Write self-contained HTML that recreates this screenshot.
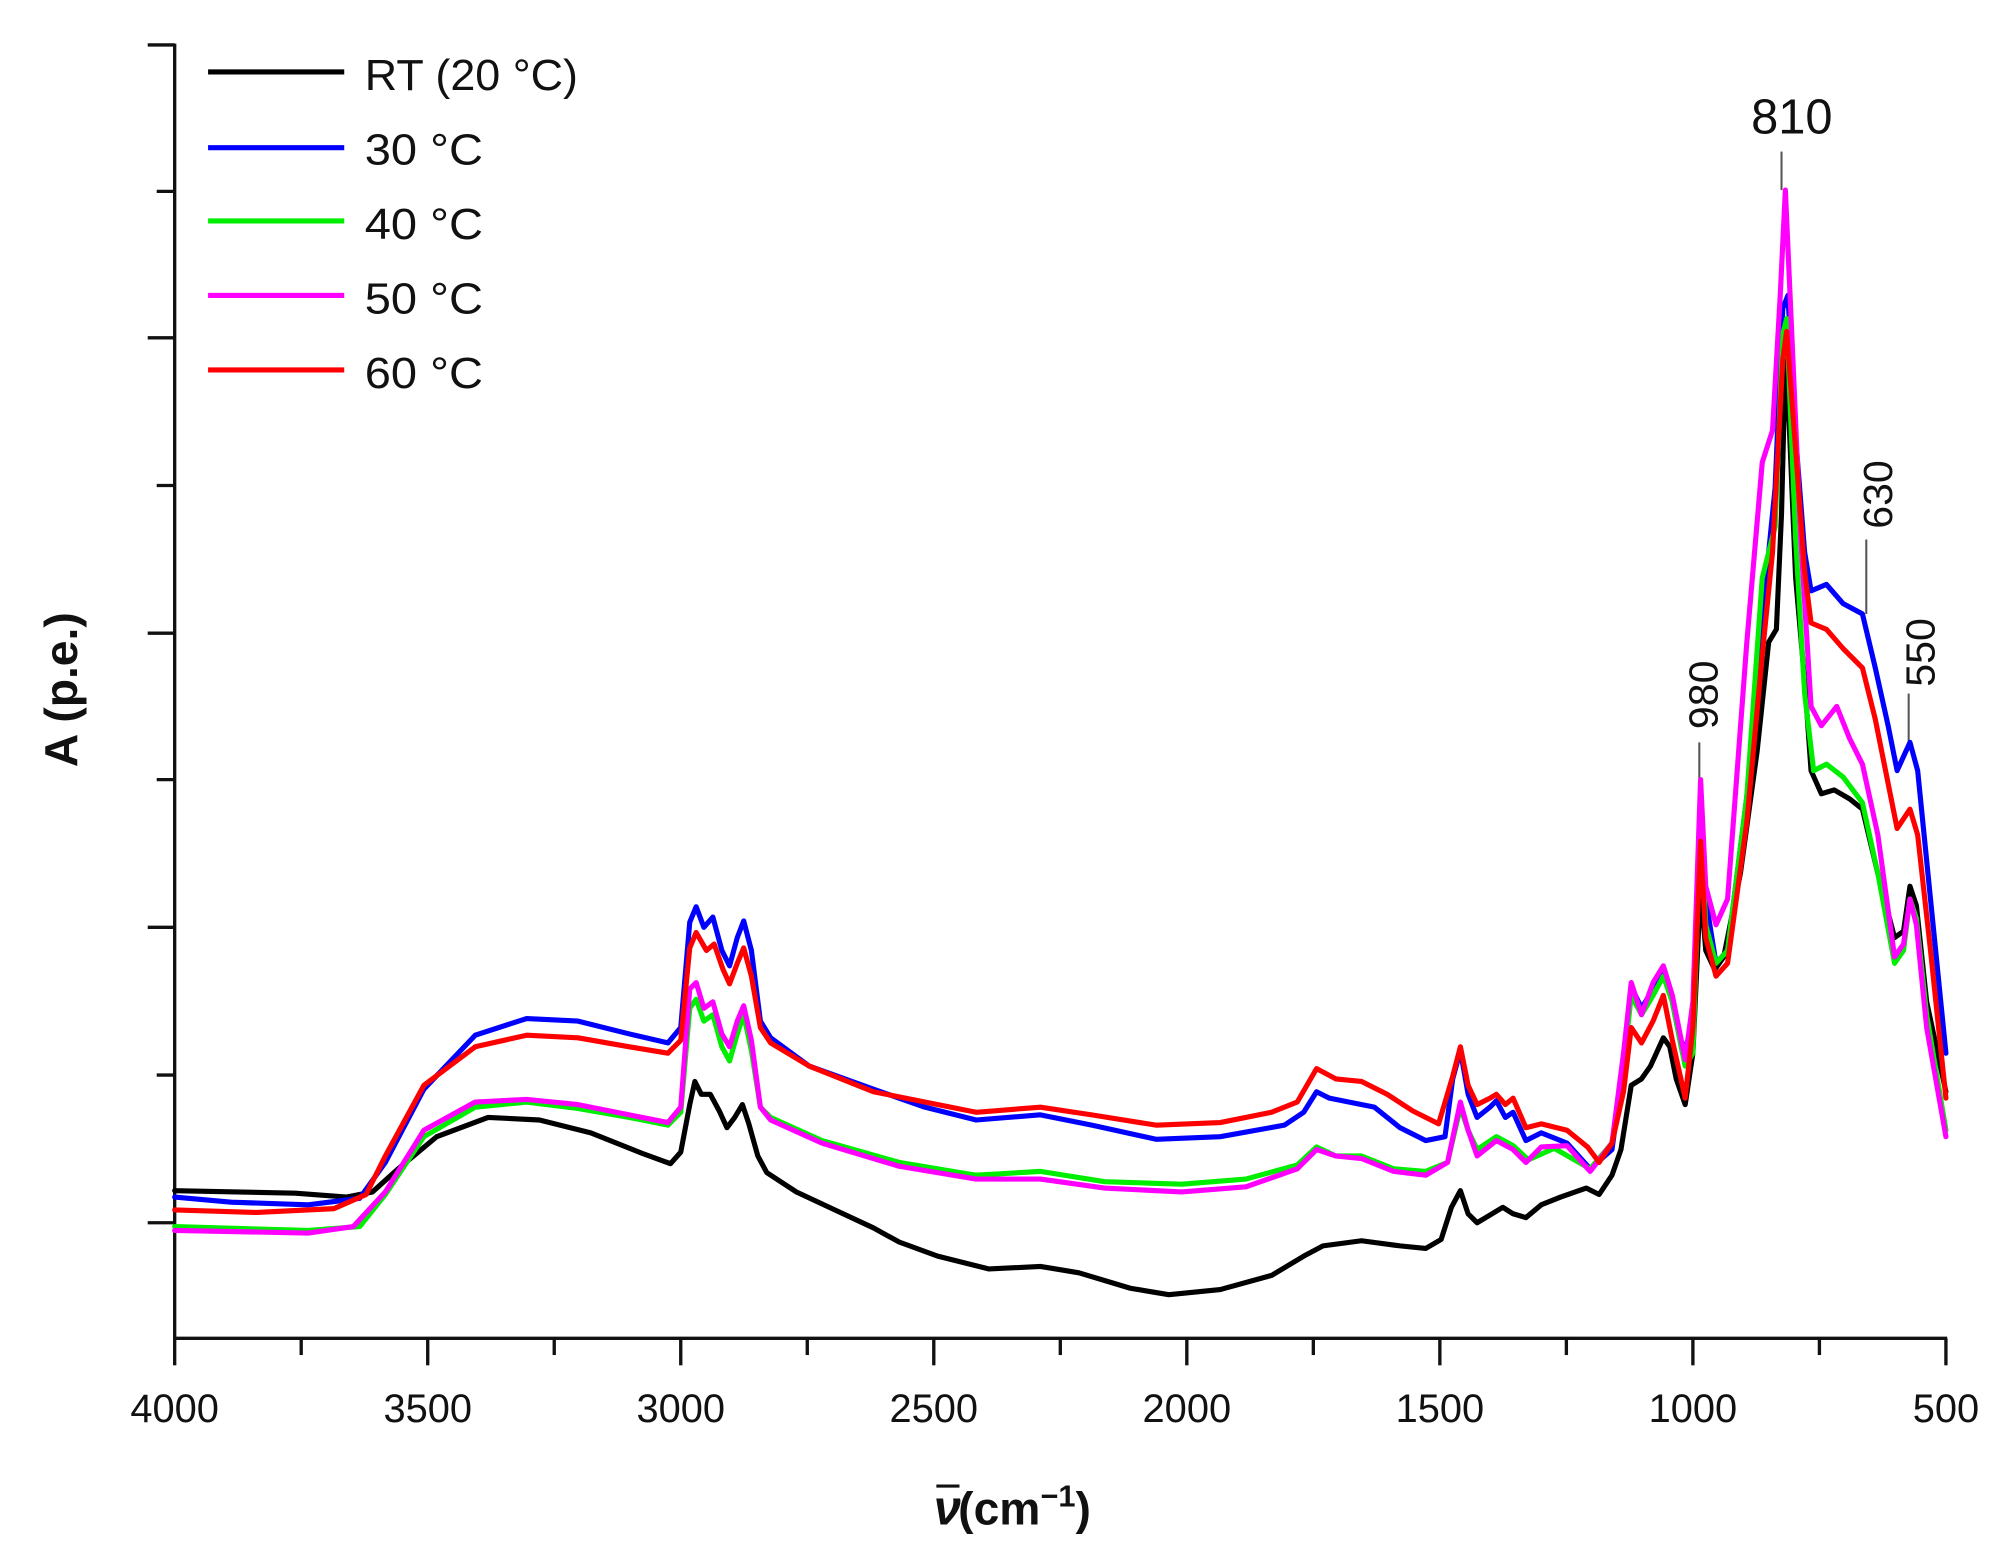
<!DOCTYPE html>
<html><head><meta charset="utf-8"><style>
html,body{margin:0;padding:0;background:#fff;}
svg{display:block;}
text{font-family:"Liberation Sans",sans-serif;fill:#111;}
.s{fill:none;stroke-width:4;stroke-linejoin:round;stroke-linecap:round;}
</style></head><body>
<svg width="2014" height="1568" viewBox="0 0 1568 1220.8" preserveAspectRatio="none" xmlns="http://www.w3.org/2000/svg">
<rect x="0" y="0" width="1568" height="1221" fill="#fff"/>
<g stroke="#111" stroke-width="2.6" fill="none">
<line x1="136" y1="34" x2="136" y2="1043"/>
<line x1="135" y1="1042" x2="1516" y2="1042"/>
<line x1="115" y1="35" x2="136" y2="35"/>
<line x1="122" y1="149" x2="136" y2="149"/>
<line x1="115" y1="263" x2="136" y2="263"/>
<line x1="122" y1="378" x2="136" y2="378"/>
<line x1="115" y1="493" x2="136" y2="493"/>
<line x1="122" y1="607" x2="136" y2="607"/>
<line x1="115" y1="722" x2="136" y2="722"/>
<line x1="122" y1="837" x2="136" y2="837"/>
<line x1="115" y1="952" x2="136" y2="952"/>
<line x1="136" y1="1042" x2="136" y2="1063"/>
<line x1="234.5" y1="1042" x2="234.5" y2="1055"/>
<line x1="333" y1="1042" x2="333" y2="1063"/>
<line x1="431.5" y1="1042" x2="431.5" y2="1055"/>
<line x1="530" y1="1042" x2="530" y2="1063"/>
<line x1="628.5" y1="1042" x2="628.5" y2="1055"/>
<line x1="727" y1="1042" x2="727" y2="1063"/>
<line x1="825.5" y1="1042" x2="825.5" y2="1055"/>
<line x1="924" y1="1042" x2="924" y2="1063"/>
<line x1="1022.5" y1="1042" x2="1022.5" y2="1055"/>
<line x1="1121" y1="1042" x2="1121" y2="1063"/>
<line x1="1219.5" y1="1042" x2="1219.5" y2="1055"/>
<line x1="1318" y1="1042" x2="1318" y2="1063"/>
<line x1="1416.5" y1="1042" x2="1416.5" y2="1055"/>
<line x1="1515" y1="1042" x2="1515" y2="1063"/>
</g>
<g font-size="31" text-anchor="middle">
<text x="136" y="1107">4000</text><text x="333" y="1107">3500</text><text x="530" y="1107">3000</text>
<text x="727" y="1107">2500</text><text x="924" y="1107">2000</text><text x="1121" y="1107">1500</text>
<text x="1318" y="1107">1000</text><text x="1515" y="1107">500</text>
</g>
<text x="727" y="1187" font-size="38" font-weight="bold" font-family="Liberation Serif" font-style="italic">ν</text>
<line x1="729" y1="1157" x2="747" y2="1157" stroke="#111" stroke-width="2.5"/>
<text x="746" y="1187" font-size="36" font-weight="bold">(cm<tspan font-size="24" dy="-14">−1</tspan><tspan dy="14">)</tspan></text>
<text transform="translate(60,537) rotate(-90)" font-size="36" font-weight="bold" text-anchor="middle">A (p.e.)</text>
<g stroke-width="4">
<line x1="162" y1="56" x2="268" y2="56" stroke="#000"/>
<line x1="162" y1="115" x2="268" y2="115" stroke="#0000ff"/>
<line x1="162" y1="172" x2="268" y2="172" stroke="#00ee00"/>
<line x1="162" y1="230" x2="268" y2="230" stroke="#ff00ff"/>
<line x1="162" y1="288" x2="268" y2="288" stroke="#ff0000"/>
</g>
<g font-size="34">
<text x="284" y="70" textLength="166" lengthAdjust="spacingAndGlyphs">RT (20 °C)</text>
<text x="284" y="128" textLength="92" lengthAdjust="spacingAndGlyphs">30 °C</text>
<text x="284" y="186" textLength="92" lengthAdjust="spacingAndGlyphs">40 °C</text>
<text x="284" y="244" textLength="92" lengthAdjust="spacingAndGlyphs">50 °C</text>
<text x="284" y="302" textLength="92" lengthAdjust="spacingAndGlyphs">60 °C</text>
</g>
<g stroke="#555" stroke-width="1.6">
<line x1="1387" y1="118" x2="1387" y2="148"/>
<line x1="1323" y1="578" x2="1323" y2="606"/>
<line x1="1453" y1="420" x2="1453" y2="478"/>
<line x1="1486" y1="540" x2="1486" y2="578"/>
</g>
<text x="1395" y="104" font-size="38" text-anchor="middle">810</text>
<text transform="translate(1337,541) rotate(-90)" font-size="32" text-anchor="middle">980</text>
<text transform="translate(1473,385) rotate(-90)" font-size="32" text-anchor="middle">630</text>
<text transform="translate(1506,508) rotate(-90)" font-size="32" text-anchor="middle">550</text>
<polyline class="s" stroke="#000" points="136,927 230,929 270,932 290,928 310,910 340,885 380,870 420,872 460,882 500,898 522,906 530,897 537,860 541,842 546,852 553,852 560,865 566,878 572,870 578,860 583,875 590,900 597,913 620,928 650,942 680,956 700,967 730,978 770,988 810,986 840,991 880,1003 910,1008 950,1004 990,993 1015,978 1030,970 1060,966 1090,970 1110,972 1122,965 1130,940 1137,927 1143,945 1150,952 1160,946 1170,940 1178,945 1188,948 1200,938 1215,932 1235,925 1245,930 1255,915 1262,895 1270,845 1278,840 1285,830 1295,808 1300,815 1305,840 1312,860 1318,820 1324,690 1328,740 1335,755 1342,745 1355,680 1368,585 1377,500 1383,490 1387,400 1390,280 1393,330 1398,450 1405,530 1410,600 1418,618 1428,615 1440,622 1450,630 1462,680 1475,730 1482,725 1487,690 1492,705 1500,780 1515,850"/>
<polyline class="s" stroke="#0000ff" points="136,932 180,936 240,938 280,933 300,905 330,848 370,806 410,793 450,795 490,805 520,812 530,800 537,718 542,706 548,722 555,714 562,740 568,752 574,730 579,717 585,740 592,795 600,808 630,830 680,848 720,862 760,872 810,868 850,876 900,887 950,885 1000,876 1015,866 1025,850 1035,855 1050,858 1070,862 1090,878 1110,888 1125,885 1131,840 1137,818 1143,852 1150,870 1160,862 1165,857 1172,870 1178,866 1188,888 1200,882 1220,890 1238,910 1255,895 1264,830 1270,768 1278,785 1287,770 1295,755 1300,770 1310,820 1318,800 1324,628 1328,700 1336,750 1345,740 1360,620 1372,480 1382,380 1388,240 1392,230 1398,340 1405,430 1410,460 1422,455 1435,470 1450,478 1460,520 1470,565 1477,600 1487,578 1493,600 1503,700 1515,820"/>
<polyline class="s" stroke="#00ee00" points="136,955 240,958 280,955 300,930 330,885 370,862 410,858 450,863 490,870 520,876 530,866 537,785 542,778 548,795 555,790 562,815 568,826 574,805 579,790 585,818 592,862 600,870 640,888 700,905 760,915 810,912 860,920 920,922 970,918 1010,907 1025,893 1040,900 1060,900 1085,910 1110,912 1127,905 1137,862 1143,880 1150,895 1165,885 1178,892 1190,903 1210,894 1238,910 1255,890 1264,830 1270,775 1278,790 1287,775 1295,760 1302,780 1312,830 1318,820 1324,640 1328,720 1336,750 1345,740 1360,620 1372,450 1382,410 1388,260 1391,248 1398,420 1405,540 1412,600 1422,595 1435,605 1450,625 1462,680 1475,750 1482,740 1487,700 1492,715 1500,790 1515,880"/>
<polyline class="s" stroke="#ff00ff" points="136,958 240,960 275,955 300,928 330,880 370,858 410,856 450,860 490,868 520,874 530,862 537,770 542,765 548,785 555,780 562,805 568,815 574,795 579,783 585,810 592,862 600,872 640,890 700,908 760,918 810,918 860,925 920,928 970,924 1010,910 1025,895 1040,900 1060,902 1085,912 1110,915 1127,905 1137,858 1143,880 1150,900 1165,888 1178,895 1188,905 1200,893 1220,892 1238,912 1255,890 1264,820 1270,765 1278,790 1287,765 1295,752 1302,775 1312,825 1318,780 1324,607 1328,690 1336,720 1345,700 1360,500 1372,360 1380,335 1386,230 1390,148 1395,260 1402,420 1410,550 1418,565 1430,550 1440,575 1450,595 1462,650 1475,745 1482,735 1487,700 1492,720 1500,800 1515,885"/>
<polyline class="s" stroke="#ff0000" points="136,942 200,944 260,941 285,930 300,900 330,845 370,815 410,806 450,808 490,815 520,820 530,810 537,738 542,726 550,740 556,735 563,755 568,766 574,750 579,738 585,760 592,800 600,812 630,830 680,850 720,858 760,866 810,862 850,868 900,876 950,874 990,866 1010,858 1025,832 1040,840 1060,842 1080,852 1100,865 1120,875 1131,838 1137,815 1143,845 1150,860 1160,855 1165,852 1172,860 1178,855 1188,878 1200,875 1220,880 1236,893 1245,905 1255,890 1264,850 1270,800 1278,812 1287,795 1295,775 1302,810 1312,855 1318,800 1324,655 1328,730 1336,760 1345,750 1360,640 1372,510 1380,430 1388,280 1391,258 1398,350 1405,445 1410,485 1422,490 1435,505 1450,520 1460,560 1470,610 1477,645 1487,630 1493,650 1503,740 1515,855"/>
</svg>
</body></html>
